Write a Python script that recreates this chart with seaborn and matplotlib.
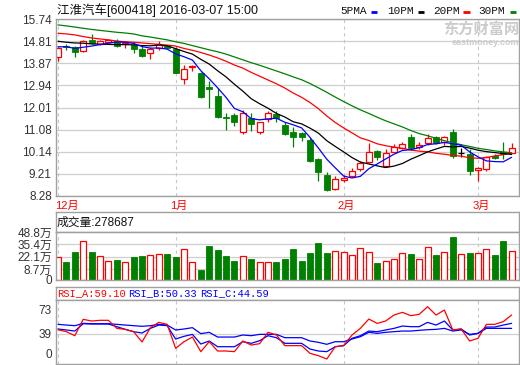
import numpy as np
import pandas as pd
import matplotlib
matplotlib.use("Agg")
import matplotlib.pyplot as plt
import matplotlib.transforms as mtransforms
from matplotlib.lines import Line2D
import seaborn as sns

# ---------------- data ----------------
title = "江淮汽车[600418] 2016-03-07 15:00"
month_labels = ["12月", "1月", "2月", "3月"]
month_idx = [0, 14, 34, 50]

open_ = [14.13, 14.60, 14.55, 14.40, 14.86, 14.69, 14.76, 14.80, 14.72, 14.64,
         14.48, 14.29, 14.51, 14.60, 14.48, 13.20, 13.70, 13.48, 12.86, 12.50,
         11.62, 11.68, 10.99, 11.56, 10.99, 11.51, 11.74, 11.29, 10.99, 10.95,
         10.64, 9.83, 9.17, 8.58, 8.96, 9.12, 9.41, 9.70, 10.18, 9.56,
         10.15, 10.29, 10.78, 10.36, 10.53, 10.75, 10.57, 10.99, 10.11, 10.05,
         9.39, 9.42, 9.97, 10.15, 10.11]
close = [14.53, 14.54, 14.34, 14.83, 14.74, 14.83, 14.84, 14.60, 14.78, 14.48,
         14.19, 14.48, 14.67, 14.52, 13.48, 13.62, 13.76, 12.44, 12.78, 11.62,
         11.58, 11.41, 11.77, 11.30, 11.39, 11.77, 11.56, 10.91, 10.75, 10.78,
         9.76, 9.31, 8.53, 8.98, 9.03, 9.35, 9.66, 10.15, 9.94, 10.08,
         10.35, 10.47, 10.29, 10.43, 10.71, 10.50, 10.78, 9.98, 10.11, 9.33,
         9.45, 9.91, 9.87, 10.05, 10.29]
high = [14.55, 14.67, 14.60, 14.86, 15.11, 14.86, 14.91, 14.88, 14.79, 14.74,
        14.61, 14.57, 14.80, 14.64, 14.57, 13.80, 13.80, 13.52, 13.13, 12.82,
        11.78, 11.78, 11.91, 11.77, 11.41, 11.88, 11.86, 11.39, 11.20, 10.99,
        10.74, 9.90, 9.31, 9.12, 9.17, 9.45, 9.77, 10.53, 10.22, 10.26,
        10.46, 10.54, 10.88, 10.57, 10.88, 10.81, 10.81, 11.09, 10.29, 10.25,
        9.52, 9.97, 10.04, 10.57, 10.50]
low = [13.98, 14.45, 14.15, 14.34, 14.67, 14.66, 14.67, 14.57, 14.51, 14.32,
       14.15, 14.04, 14.43, 14.48, 13.45, 12.99, 13.56, 12.40, 12.00, 11.56,
       11.07, 11.24, 10.89, 11.03, 10.91, 11.39, 11.41, 10.86, 10.36, 10.60,
       9.71, 8.93, 8.50, 8.53, 8.88, 9.07, 9.33, 9.66, 9.80, 9.52,
       10.12, 10.25, 10.22, 10.26, 10.43, 10.46, 10.43, 9.87, 9.94, 9.17,
       8.93, 9.33, 9.83, 9.83, 10.08]

ma5 = [14.57, 14.57, 14.50, 14.55, 14.60, 14.66, 14.72, 14.77, 14.76, 14.71,
       14.58, 14.51, 14.52, 14.47, 14.27, 14.15, 14.01, 13.56, 13.22, 12.84,
       12.44, 11.97, 11.83, 11.54, 11.49, 11.53, 11.56, 11.39, 11.28, 11.15,
       10.75, 10.30, 9.83, 9.47, 9.12, 9.04, 9.11, 9.43, 9.63, 9.84,
       10.04, 10.20, 10.23, 10.32, 10.45, 10.48, 10.54, 10.48, 10.42, 10.14,
       9.93, 9.76, 9.73, 9.72, 9.91]
ma10 = [14.80, 14.76, 14.73, 14.72, 14.69, 14.68, 14.67, 14.66, 14.66, 14.65,
        14.62, 14.61, 14.64, 14.61, 14.49, 14.37, 14.26, 14.04, 13.84, 13.56,
        13.30, 12.99, 12.70, 12.38, 12.17, 11.98, 11.76, 11.61, 11.41, 11.32,
        11.14, 10.93, 10.61, 10.37, 10.14, 9.90, 9.71, 9.63, 9.55, 9.48,
        9.54, 9.65, 9.83, 9.98, 10.14, 10.26, 10.37, 10.35, 10.37, 10.30,
        10.21, 10.15, 10.11, 10.07, 10.03]
ma20 = [15.14, 15.11, 15.07, 15.00, 14.94, 14.90, 14.86, 14.81, 14.78, 14.76,
        14.73, 14.70, 14.67, 14.64, 14.60, 14.50, 14.42, 14.33, 14.22, 14.10,
        13.96, 13.80, 13.67, 13.49, 13.33, 13.17, 13.01, 12.83, 12.62, 12.44,
        12.22, 11.96, 11.65, 11.38, 11.15, 10.94, 10.73, 10.62, 10.48, 10.40,
        10.34, 10.29, 10.22, 10.17, 10.14, 10.08, 10.04, 9.99, 9.96, 9.89,
        9.87, 9.90, 9.97, 10.02, 10.09]
ma30 = [15.49, 15.45, 15.40, 15.35, 15.30, 15.26, 15.22, 15.18, 15.15, 15.11,
        15.03, 14.98, 14.92, 14.86, 14.78, 14.71, 14.62, 14.53, 14.44, 14.36,
        14.26, 14.14, 14.02, 13.90, 13.79, 13.67, 13.55, 13.43, 13.30, 13.18,
        13.02, 12.84, 12.65, 12.45, 12.26, 12.08, 11.91, 11.76, 11.60, 11.45,
        11.32, 11.19, 11.04, 10.91, 10.82, 10.71, 10.61, 10.53, 10.44, 10.37,
        10.29, 10.24, 10.18, 10.14, 10.10]

volume = [21.4, 16.3, 27.1, 38.7, 27.1, 22.5, 17.0, 18.5, 16.0, 21.7,
          22.8, 23.5, 24.6, 25.0, 21.7, 30.4, 16.0, 7.6, 33.6, 29.6,
          22.8, 17.4, 22.5, 19.9, 16.0, 16.0, 16.0, 19.5, 30.4, 17.4,
          26.0, 36.9, 26.0, 27.9, 26.8, 23.5, 31.1, 26.8, 15.2, 17.0,
          19.5, 25.7, 25.0, 19.5, 32.2, 23.9, 26.8, 43.4, 24.6, 26.0,
          26.0, 30.1, 23.9, 39.0, 27.87]

rsi_a = [44.4, 41.6, 35.9, 59.1, 56.7, 57.7, 57.7, 46.3, 44.9, 41.6,
         27.0, 47.3, 54.8, 52.0, 18.0, 27.4, 34.0, 13.3, 27.4, 14.2,
         14.2, 13.3, 28.4, 22.7, 24.6, 40.7, 36.9, 21.8, 21.8, 21.8,
         10.9, 7.6, 2.9, 20.3, 21.8, 36.9, 46.3, 59.5, 53.4, 56.7,
         65.2, 69.0, 64.3, 66.2, 77.0, 65.2, 72.3, 44.0, 45.4, 28.4,
         32.2, 52.0, 52.0, 55.8, 65.2]
rsi_b = [45.4, 44.0, 42.5, 52.9, 52.5, 52.5, 52.5, 48.7, 44.9, 41.6,
         39.7, 46.3, 51.0, 50.1, 31.2, 35.0, 37.8, 24.1, 28.4, 20.3,
         20.3, 20.3, 27.4, 25.1, 28.8, 35.9, 33.1, 25.1, 25.1, 25.1,
         17.0, 14.2, 13.3, 20.3, 21.8, 32.2, 35.9, 42.5, 41.6, 44.0,
         46.3, 49.6, 48.7, 48.7, 54.8, 51.0, 56.7, 44.0, 45.4, 36.9,
         39.2, 48.2, 48.2, 51.0, 53.4]
rsi_c = [52.0, 51.0, 50.1, 53.4, 52.9, 52.9, 52.9, 52.0, 51.0, 50.1,
         49.2, 50.1, 52.0, 51.0, 44.0, 45.4, 47.3, 38.8, 40.7, 34.0,
         34.0, 34.0, 36.9, 35.9, 37.8, 37.8, 37.8, 33.1, 33.1, 33.1,
         28.4, 26.5, 23.7, 27.4, 27.4, 31.2, 34.5, 40.7, 39.2, 40.7,
         41.6, 42.5, 42.5, 43.5, 44.4, 44.9, 46.3, 42.5, 44.0, 37.8,
         39.2, 46.3, 46.3, 46.3, 46.3]

price_ticks = [15.74, 14.81, 13.87, 12.94, 12.01, 11.08, 10.14, 9.21, 8.28]
vol_ticks = [8.7, 22.1, 35.4, 48.8]
vol_tick_labels = ["8.7万", "22.1万", "35.4万", "48.8万"]
vol_floor = -3.2
rsi_ticks = [0, 39, 73]
legend_names = ["5PMA", "10PM", "20PM", "30PM"]
vol_header = "成交量:278687"
rsi_header = ["RSI_A:59.10", "RSI_B:50.33", "RSI_C:44.59"]

# ---------------- style ----------------
sns.set_style("white")
plt.rcParams["font.family"] = ["Liberation Sans", "Noto Sans CJK SC", "DejaVu Sans"]

RED = "#ff0000"
GREEN = "#008000"
BLUE = "#0000ff"
BLACK = "#000000"
FRAME = "#a0a0a0"
GRID = "#cfcfcf"
TXT = "#333333"

W, H = 520, 365
fig = plt.figure(figsize=(W / 100, H / 100), dpi=100)
fig.patch.set_facecolor("white")


def add_ax(l, t, r, b):
    a = fig.add_axes([l / W, 1 - b / H, (r - l) / W, (b - t) / H])
    for s in a.spines.values():
        s.set_color(FRAME)
        s.set_linewidth(1.0)
    a.set_facecolor("white")
    return a


n = len(close)
idx = np.arange(n)
XL = (-0.24, 54.88)

ax = add_ax(56, 19, 519, 196)
ax_vh = add_ax(56, 212, 519, 232)
ax_v = add_ax(56, 232, 519, 280)
ax_rh = add_ax(56, 287, 519, 300)
ax_r = add_ax(56, 300, 519, 364)

for a in (ax_vh, ax_rh):
    a.set_xticks([])
    a.set_yticks([])

# ---------------- main price panel ----------------
ax.set_xlim(*XL)
ax.set_ylim(8.28, 15.74)
ax.set_yticks(price_ticks)
ax.set_yticklabels([f"{t:.2f}" for t in price_ticks])
ax.set_xticks([])
ax.tick_params(axis="y", length=0, pad=3, labelsize=8.5, labelcolor=TXT)
for t in price_ticks:
    ax.axhline(t, color=GRID, lw=0.9, zorder=0)
for m in month_idx:
    ax.axvline(m, color="#c8c8c8", lw=0.8, ls=(0, (3, 3)), zorder=0)

bw = 0.72
for i in range(n):
    o, c, h, l = open_[i], close[i], high[i], low[i]
    if c > o:
        ax.bar(i, c - o, bottom=o, width=bw, facecolor="white", edgecolor=RED, lw=0.9, zorder=2)
        ax.vlines(i, c, h, color=RED, lw=0.9, zorder=2)
        ax.vlines(i, l, o, color=RED, lw=0.9, zorder=2)
    elif c < o:
        ax.vlines(i, l, h, color=GREEN, lw=0.9, zorder=2)
        ax.bar(i, o - c, bottom=c, width=bw, facecolor=GREEN, edgecolor=GREEN, lw=0.6, zorder=2)
    else:
        ax.vlines(i, l, h, color=BLACK, lw=0.9, zorder=2)
        ax.hlines(o, i - bw / 2, i + bw / 2, color=BLACK, lw=0.9, zorder=2)

ma_df = pd.DataFrame({"i": idx, "ma5": ma5, "ma10": ma10, "ma20": ma20, "ma30": ma30})
for col, colr in (("ma30", GREEN), ("ma20", RED), ("ma10", BLACK), ("ma5", BLUE)):
    sns.lineplot(data=ma_df, x="i", y=col, ax=ax, color=colr, lw=0.9, legend=False, zorder=3)
ax.set_xlabel("")
ax.set_ylabel("")

# month labels
trans = mtransforms.blended_transform_factory(ax.transData, ax.transAxes)
for k, (m, lab) in enumerate(zip(month_idx, month_labels)):
    if k == 0:
        ax.text(m - 0.35, -0.056, lab, transform=trans, ha="left", va="center",
                color=RED, fontsize=8, clip_on=False)
    else:
        ax.text(m + 0.35, -0.056, lab, transform=trans, ha="center", va="center",
                color=RED, fontsize=8, clip_on=False)

# title & legend
fig.text(57 / W, 1 - 10 / H, title, ha="left", va="center", fontsize=9, color="#111111")
leg_x = [340, 387, 433, 478]
dash_x = [(371, 377), (418, 424), (463, 470), (510, 516)]
for name, lx, (d0, d1), colr in zip(legend_names, leg_x, dash_x, [BLUE, BLACK, RED, GREEN]):
    fig.text(lx / W, 1 - 10.5 / H, name, ha="left", va="center", fontsize=8,
             family=["Liberation Mono"], color="#111111")
    fig.add_artist(Line2D([d0 / W, d1 / W], [1 - 11.5 / H, 1 - 11.5 / H], color=colr, lw=2.0,
                          solid_capstyle="butt"))

# watermark
fig.text(519 / W, 1 - 28.5 / H, "东方财富网", ha="right", va="center", fontsize=11,
         fontweight="bold", color="#cccccc", family=["Noto Sans CJK SC"])
fig.text(519 / W, 1 - 42.5 / H, "eastmoney.com", ha="right", va="center", fontsize=6.5,
         fontweight="bold", color="#cccccc")

# ---------------- volume ----------------
ax_vh.text(1 / 463, 0.45, vol_header, transform=ax_vh.transAxes, ha="left", va="center",
           fontsize=8.5, color="#111111")

ax_v.set_xlim(*XL)
ax_v.set_ylim(vol_floor, 48.8)
for i in range(n):
    if close[i] >= open_[i]:
        ax_v.bar(i, volume[i] - vol_floor, bottom=vol_floor, width=bw, facecolor="white",
                 edgecolor=RED, lw=0.9, zorder=2)
    else:
        ax_v.bar(i, volume[i] - vol_floor, bottom=vol_floor, width=bw, facecolor=GREEN,
                 edgecolor=GREEN, lw=0.6, zorder=2)
ax_v.set_yticks([vol_floor] + vol_ticks)
ax_v.set_yticklabels(["0"] + vol_tick_labels)
ax_v.set_xticks([])
ax_v.tick_params(axis="y", length=0, pad=3, labelsize=8.5, labelcolor=TXT)
for t in vol_ticks:
    ax_v.axhline(t, color=GRID, lw=0.9, zorder=0)
for m in month_idx:
    ax_v.axvline(m, color="#c8c8c8", lw=0.8, ls=(0, (3, 3)), zorder=0)

# ---------------- RSI ----------------
hx = [57, 128, 200]
for txt, x0, colr in zip(rsi_header, hx, [RED, BLUE, BLUE]):
    ax_rh.text((x0 - 56) / 463, 0.5, txt, transform=ax_rh.transAxes, ha="left", va="center",
               fontsize=7.5, family=["Liberation Mono"], color=colr)

ax_r.set_xlim(*XL)
ax_r.set_ylim(-4.2, 86.5)
rsi_df = pd.DataFrame({"i": idx, "a": rsi_a, "b": rsi_b, "c": rsi_c})
sns.lineplot(data=rsi_df, x="i", y="c", ax=ax_r, color=BLUE, lw=0.9, legend=False, zorder=3)
sns.lineplot(data=rsi_df, x="i", y="b", ax=ax_r, color=BLUE, lw=0.9, legend=False, zorder=3)
sns.lineplot(data=rsi_df, x="i", y="a", ax=ax_r, color=RED, lw=0.9, legend=False, zorder=3)
ax_r.set_xlabel("")
ax_r.set_ylabel("")
ax_r.set_yticks(rsi_ticks)
ax_r.set_yticklabels([str(t) for t in rsi_ticks])
ax_r.set_xticks([])
ax_r.tick_params(axis="y", length=0, pad=3, labelsize=8.5, labelcolor=TXT)
for lab in ax_r.get_yticklabels():
    if lab.get_text() == "0":
        lab.set_verticalalignment("bottom")
ax_r.axhline(39, color=GRID, lw=0.9, zorder=0)
for m in month_idx:
    ax_r.axvline(m, color="#c8c8c8", lw=0.8, ls=(0, (3, 3)), zorder=0)

fig.savefig("out.png", dpi=100)
